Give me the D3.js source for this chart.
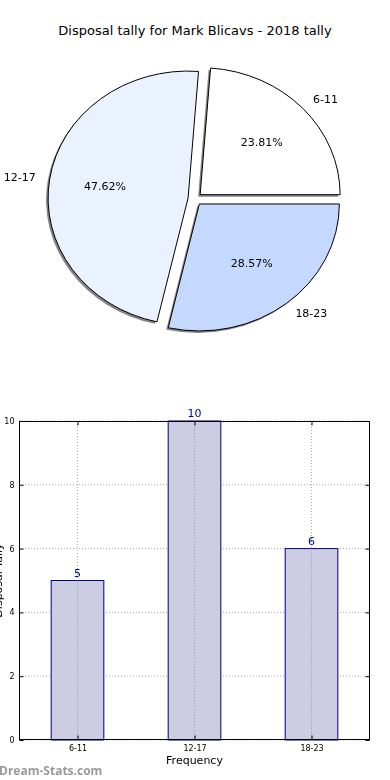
<!DOCTYPE html>
<html><head><meta charset="utf-8">
<script src="https://cdn.jsdelivr.net/npm/d3@7"></script>
<style>body{margin:0;background:#fff}svg{display:block;font-family:"DejaVu Sans",sans-serif}</style>
</head><body>
<svg id="c" width="390" height="780"></svg>
<script>
const categories = ["6-11", "12-17", "18-23"];
const values = [5, 10, 6];
const pieColors = ["#ffffff", "#ebf2ff", "#c5d9ff"];
const yTicks = [0, 2, 4, 6, 8, 10];
const title = "Disposal tally for Mark Blicavs - 2018 tally";

const svg = d3.select("#c");
svg.append("rect").attr("width",390).attr("height",780).attr("fill","#fff");

svg.append("text").attr("x",195).attr("y",35).attr("text-anchor","middle")
  .attr("font-size",13).attr("fill","#000").text(title);

// ---- Pie (matplotlib style: start at 3 o'clock, counter-clockwise) ----
const cx = 195, cy = 199, rx = 140, ry = 127, explode = 0.05;
const total = d3.sum(values);
const angScale = d3.scaleLinear().domain([0,total]).range([0, 2*Math.PI]);
let acc = 0;
const wedges = values.map((v,i)=>{
  const t1 = angScale(acc); acc += v; const t2 = angScale(acc);
  return {i, v, t1, t2, tm:(t1+t2)/2};
});
function wedgePath(w, dx, dy){
  const ox = cx + explode*rx*Math.cos(w.tm) + dx;
  const oy = cy - explode*ry*Math.sin(w.tm) + dy;
  const p = d3.path();
  p.moveTo(ox, oy);
  p.lineTo(ox + rx*Math.cos(w.t1), oy - ry*Math.sin(w.t1));
  const large = (w.t2 - w.t1) > Math.PI ? 1 : 0;
  return p.toString() + ` A${rx},${ry} 0 ${large} 0 ${ox + rx*Math.cos(w.t2)},${oy - ry*Math.sin(w.t2)} Z`;
}
const defs = svg.append("defs");
defs.append("filter").attr("id","blur").attr("x","-10%").attr("y","-10%").attr("width","120%").attr("height","120%")
  .append("feGaussianBlur").attr("stdDeviation",0.7);
const shadowG = svg.append("g").attr("filter","url(#blur)");
wedges.forEach(w=>{
  shadowG.append("path").attr("d", wedgePath(w,-2,2)).attr("fill","#6e6e6e").attr("opacity",0.85);
});
wedges.forEach(w=>{
  svg.append("path").attr("d", wedgePath(w,0,0))
    .attr("fill",pieColors[w.i]).attr("stroke","#000").attr("stroke-width",1).attr("stroke-linejoin","round");
});
wedges.forEach(w=>{
  const ox = cx + explode*rx*Math.cos(w.tm), oy = cy - explode*ry*Math.sin(w.tm);
  const c = Math.cos(w.tm), s = Math.sin(w.tm);
  svg.append("text").attr("x", ox + 1.1*rx*c).attr("y", oy - 1.1*ry*s)
    .attr("text-anchor", c>0 ? "start" : "end").attr("dominant-baseline","central")
    .attr("font-size",11).attr("fill","#000").text(categories[w.i]);
  svg.append("text").attr("x", ox + 0.6*rx*c).attr("y", oy - 0.6*ry*s)
    .attr("text-anchor","middle").attr("dominant-baseline","central")
    .attr("font-size",11).attr("fill","#000").text((w.v/total*100).toFixed(2)+"%");
});

// ---- Bar chart ----
const L=19, R=370, T=421, B=740;
const x = d3.scaleLinear().domain([-0.5, categories.length-0.5]).range([L,R]);
const y = d3.scaleLinear().domain([0,10]).range([B,T]);
const bw = 0.45;
const g = svg.append("g");
yTicks.forEach(t=>{
  g.append("line").attr("x1",L).attr("x2",R).attr("y1",y(t)).attr("y2",y(t))
    .attr("stroke","#aaa").attr("stroke-width",1).attr("stroke-dasharray","1,2");
});
categories.forEach((c,i)=>{
  g.append("line").attr("x1",x(i)).attr("x2",x(i)).attr("y1",T).attr("y2",B)
    .attr("stroke","#aaa").attr("stroke-width",1).attr("stroke-dasharray","1,2");
});
g.selectAll("rect.bar").data(values).enter().append("rect").attr("class","bar")
  .attr("x",(d,i)=>x(i-bw/2)).attr("width",x(bw)-x(0))
  .attr("y",d=>y(d)).attr("height",d=>B-y(d))
  .attr("fill","#ccccE2").attr("stroke","#000080").attr("stroke-width",1);
categories.forEach((c,i)=>{
  g.append("line").attr("x1",x(i)).attr("x2",x(i)).attr("y1",y(values[i])).attr("y2",B)
    .attr("stroke","#999").attr("stroke-width",1).attr("stroke-dasharray","1,2");
});
g.selectAll("text.val").data(values).enter().append("text")
  .attr("x",(d,i)=>x(i)).attr("y",d=>y(d)-4).attr("text-anchor","middle")
  .attr("font-size",11).attr("fill","#0000aa").text(d=>d);
g.append("rect").attr("x",L+0.5).attr("y",T+0.5).attr("width",R-L-1).attr("height",B-T-1)
  .attr("fill","none").attr("stroke","#000").attr("stroke-width",1);
const yAxis = d3.axisLeft(y).tickValues(yTicks).tickSize(-4).tickPadding(5);
const ya = svg.append("g").attr("transform",`translate(${L+0.5},0)`).call(yAxis);
ya.select(".domain").remove();
ya.selectAll("text").attr("font-size",8).attr("fill","#000").attr("font-family","DejaVu Sans");
ya.selectAll("line").attr("stroke","#000");
const yAxisR = d3.axisRight(y).tickValues(yTicks).tickSize(-4).tickFormat("");
const yr = svg.append("g").attr("transform",`translate(${R-0.5},0)`).call(yAxisR);
yr.select(".domain").remove(); yr.selectAll("line").attr("stroke","#000");
const xAxis = d3.axisBottom(x).tickValues(d3.range(categories.length)).tickFormat(i=>categories[i]).tickSize(-4).tickPadding(6);
const xa = svg.append("g").attr("transform",`translate(0,${B-0.5})`).call(xAxis);
xa.select(".domain").remove();
xa.selectAll("text").attr("font-size",8).attr("fill","#000").attr("font-family","DejaVu Sans");
xa.selectAll("line").attr("stroke","#000");
const xAxisT = d3.axisTop(x).tickValues(d3.range(categories.length)).tickFormat("").tickSize(-4);
const xt = svg.append("g").attr("transform",`translate(0,${T+0.5})`).call(xAxisT);
xt.select(".domain").remove(); xt.selectAll("line").attr("stroke","#000");

svg.append("text").attr("x",(L+R)/2).attr("y",764).attr("text-anchor","middle")
  .attr("font-size",11).attr("fill","#000").text("Frequency");
svg.append("text").attr("transform",`translate(1.5,${(T+B)/2}) rotate(-90)`)
  .attr("text-anchor","middle").attr("font-size",11).attr("fill","#000").text("Disposal Tally");

svg.append("text").attr("x",-1).attr("y",775).attr("font-size",12).attr("font-weight","bold")
  .attr("fill","#999").attr("font-family","'Open Sans',sans-serif").text("Dream-Stats.com");
</script>
</body></html>
